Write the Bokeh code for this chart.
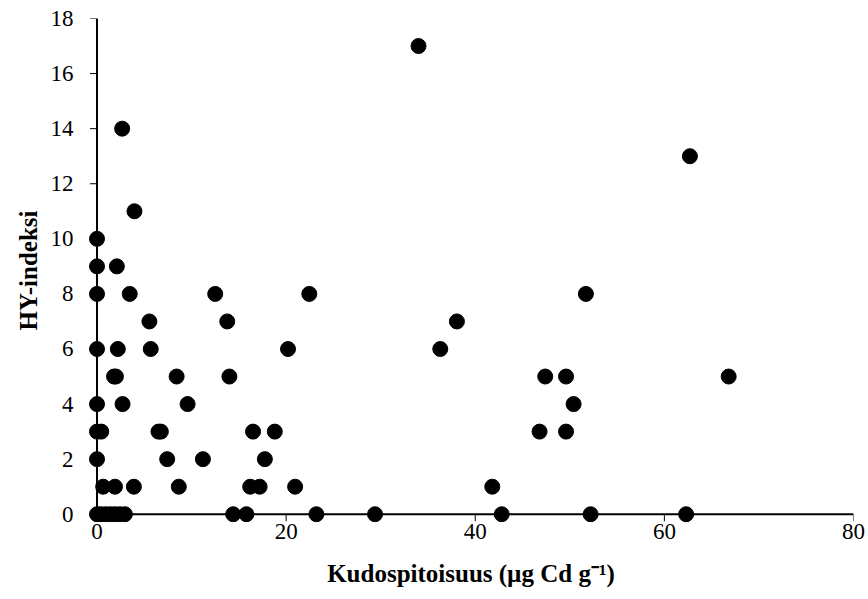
from bokeh.plotting import figure
from bokeh.models import ColumnDataSource, FixedTicker, Range1d
from bokeh.embed import file_html
from bokeh.resources import INLINE

# Tissue cadmium content (µg Cd / g) and HY index per sample
cd_content = [
    34.0,
    2.66,
    62.7,
    3.96,
    0.0,
    0.0, 2.1,
    0.0, 3.46, 12.5, 22.45, 51.7,
    5.54, 13.77, 38.06,
    0.0, 2.2, 5.68, 20.2, 36.3,
    1.8, 2.0, 8.42, 14.0, 47.4, 49.6, 66.8,
    0.0, 2.7, 9.58, 50.4,
    0.0, 0.45, 6.5, 6.75, 16.5, 18.8, 46.8, 49.6,
    0.0, 7.42, 11.2, 17.75,
    0.65, 1.9, 3.9, 8.65, 16.2, 17.2, 20.95, 41.8,
    0.0, 0.4, 0.9, 1.4, 1.9, 2.4, 2.95, 14.4, 15.8, 23.2, 29.4, 42.8, 52.2, 62.3,
]
hy_index = [
    17,
    14,
    13,
    11,
    10,
    9, 9,
    8, 8, 8, 8, 8,
    7, 7, 7,
    6, 6, 6, 6, 6,
    5, 5, 5, 5, 5, 5, 5,
    4, 4, 4, 4,
    3, 3, 3, 3, 3, 3, 3, 3,
    2, 2, 2, 2,
    1, 1, 1, 1, 1, 1, 1, 1,
    0, 0, 0, 0, 0, 0, 0, 0, 0, 0, 0, 0, 0, 0,
]

x_ticks = [0, 20, 40, 60, 80]
y_ticks = [0, 2, 4, 6, 8, 10, 12, 14, 16, 18]

# Frame geometry (px); the ranges are padded a little below/left of zero so
# the markers sitting on the axes are not cut off by the frame.
W, H = 868, 599
B_LEFT, B_RIGHT, B_TOP, B_BOTTOM = 88, 15, 18, 77
X0, X1 = -0.9, x_ticks[-1]
Y0, Y1 = -0.3, y_ticks[-1]
frame_w = W - B_LEFT - B_RIGHT
frame_h = H - B_TOP - B_BOTTOM
px_x = frame_w / (X1 - X0)
px_y = frame_h / (Y1 - Y0)
TICK_PX = 7

p = figure(
    width=W, height=H,
    output_backend="svg", toolbar_location=None,
    x_range=Range1d(X0, X1), y_range=Range1d(Y0, Y1),
    min_border_left=B_LEFT, min_border_right=B_RIGHT,
    min_border_top=B_TOP, min_border_bottom=B_BOTTOM,
)
p.outline_line_color = None
p.xgrid.visible = False
p.ygrid.visible = False
p.background_fill_color = "white"
p.border_fill_color = "white"

# axis lines through the origin, with outward tick marks
p.segment(x0=[x_ticks[0]], y0=[0], x1=[x_ticks[-1]], y1=[0],
          line_color="black", line_width=2)
p.segment(x0=[0], y0=[y_ticks[0]], x1=[0], y1=[y_ticks[-1]],
          line_color="black", line_width=2)
p.segment(x0=x_ticks, y0=[0] * len(x_ticks), x1=x_ticks,
          y1=[-TICK_PX / px_y] * len(x_ticks), line_color="black", line_width=1)
p.segment(x0=[0] * len(y_ticks), y0=y_ticks, x1=[-TICK_PX / px_x] * len(y_ticks),
          y1=y_ticks, line_color="black", line_width=1)

source = ColumnDataSource(data=dict(x=cd_content, y=hy_index))
p.scatter("x", "y", source=source, size=15, marker="circle",
          fill_color="black", line_color="black")

serif = "Liberation Serif"

for ax in (p.xaxis[0], p.yaxis[0]):
    ax.axis_line_color = None
    ax.major_tick_line_color = None
    ax.minor_tick_line_color = None
    ax.major_tick_in = 0
    ax.major_tick_out = 0
    ax.major_label_text_font = serif
    ax.major_label_text_font_size = "23px"
    ax.major_label_text_color = "black"
    ax.axis_label_text_font = serif
    ax.axis_label_text_font_style = "bold"
    ax.axis_label_text_font_size = "25px"
    ax.axis_label_text_color = "black"

p.xaxis[0].ticker = FixedTicker(ticks=x_ticks)
p.yaxis[0].ticker = FixedTicker(ticks=y_ticks)
p.xaxis[0].major_label_standoff = 1
p.yaxis[0].major_label_standoff = 15
p.xaxis[0].axis_label = "Kudospitoisuus (µg Cd g⁻¹)"
p.yaxis[0].axis_label = "HY-indeksi"
p.xaxis[0].axis_label_standoff = 18
p.yaxis[0].axis_label_standoff = 6

open("out.html", "w").write(file_html(p, INLINE))
